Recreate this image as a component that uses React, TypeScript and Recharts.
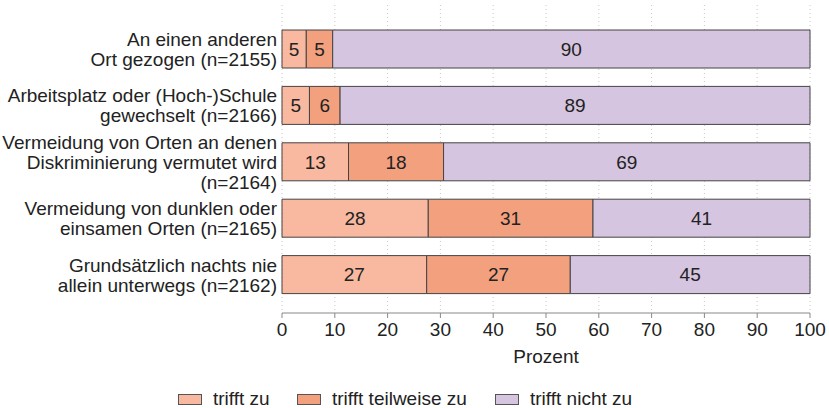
import { BarChart, Bar, XAxis, YAxis, CartesianGrid, Legend, LabelList } from 'recharts';

const categories = [
  'An einen anderen\nOrt gezogen (n=2155)',
  'Arbeitsplatz oder (Hoch-)Schule\ngewechselt (n=2166)',
  'Vermeidung von Orten an denen\nDiskriminierung vermutet wird\n(n=2164)',
  'Vermeidung von dunklen oder\neinsamen Orten (n=2165)',
  'Grundsätzlich nachts nie\nallein unterwegs (n=2162)',
];
const triffZu = [4.6, 5.2, 12.6, 27.7, 27.4];
const teilweise = [5.0, 5.8, 18.0, 31.2, 27.2];
const nichtZu = [90.4, 89.0, 69.4, 41.1, 45.4];
const xTicks = [0, 10, 20, 30, 40, 50, 60, 70, 80, 90, 100];

const series = [
  { key: 'zu', name: 'trifft zu', color: '#F9B9A0' },
  { key: 'teil', name: 'trifft teilweise zu', color: '#F3A07F' },
  { key: 'nicht', name: 'trifft nicht zu', color: '#D6C5E0' },
];

const data = categories.map((name, i) => ({
  name,
  zu: triffZu[i],
  teil: teilweise[i],
  nicht: nichtZu[i],
}));

const FONT = '"Liberation Sans", Arial, sans-serif';
const FS = 19;

const CategoryTick = ({ x, y, payload }: any) => {
  const lines = String(payload.value).split('\n');
  const lh = 20;
  const start = -((lines.length - 1) * lh) / 2;
  return (
    <text x={x} y={y} textAnchor="end" fill="#222" fontSize={FS} fontFamily={FONT}>
      {lines.map((l, i) => (
        <tspan key={i} x={x} y={y + start + i * lh} dy="0.36em">
          {l}
        </tspan>
      ))}
    </text>
  );
};

const LegendContent = () => (
  <div style={{ height: 40, position: 'relative', fontFamily: FONT, fontSize: FS, color: '#222' }}>
    {series.map((s, i) => (
      <div
        key={s.key}
        style={{ position: 'absolute', left: [178, 297, 495][i], top: 20, display: 'flex', alignItems: 'center' }}
      >
        <span
          style={{
            display: 'inline-block',
            width: 22,
            height: 9,
            background: s.color,
            border: '1px solid #555',
            marginRight: 11,
          }}
        />
        <span>{s.name}</span>
      </div>
    ))}
  </div>
);

export default function App() {
  return (
    <div style={{ position: 'absolute', left: 0, top: 0, width: 829, height: 408, background: '#fff' }}>
      <BarChart
        width={829}
        height={408}
        data={data}
        layout="vertical"
        margin={{ top: 5, right: 19, bottom: 0, left: 0 }}
        barSize={38}
      >
        <CartesianGrid horizontal={false} stroke="#c8c8c8" strokeDasharray="1 3" />
        <XAxis
          type="number"
          domain={[0, 100]}
          ticks={xTicks}
          interval={0}
          height={55}
          stroke="#888"
          tick={{ fill: '#222', fontSize: FS, fontFamily: FONT }}
          tickSize={5}
          tickMargin={5}
          label={{ value: 'Prozent', position: 'insideBottom', offset: 5, fill: '#222', fontSize: FS, fontFamily: FONT }}
        />
        <YAxis
          type="category"
          dataKey="name"
          width={282}
          axisLine={false}
          tickLine={false}
          tickSize={0}
          tickMargin={5}
          padding={{ top: 16, bottom: 10 }}
          tick={<CategoryTick />}
          interval={0}
        />
        <Legend verticalAlign="bottom" content={<LegendContent />} />
        {series.map((s) => (
          <Bar
            key={s.key}
            dataKey={s.key}
            name={s.name}
            stackId="a"
            fill={s.color}
            stroke="#444"
            strokeWidth={1}
            isAnimationActive={false}
          >
            <LabelList
              dataKey={s.key}
              position="center"
              formatter={(v: any) => Math.round(Number(v))}
              fill="#222"
              fontSize={19}
              fontFamily={FONT}
            />
          </Bar>
        ))}
      </BarChart>
    </div>
  );
}
